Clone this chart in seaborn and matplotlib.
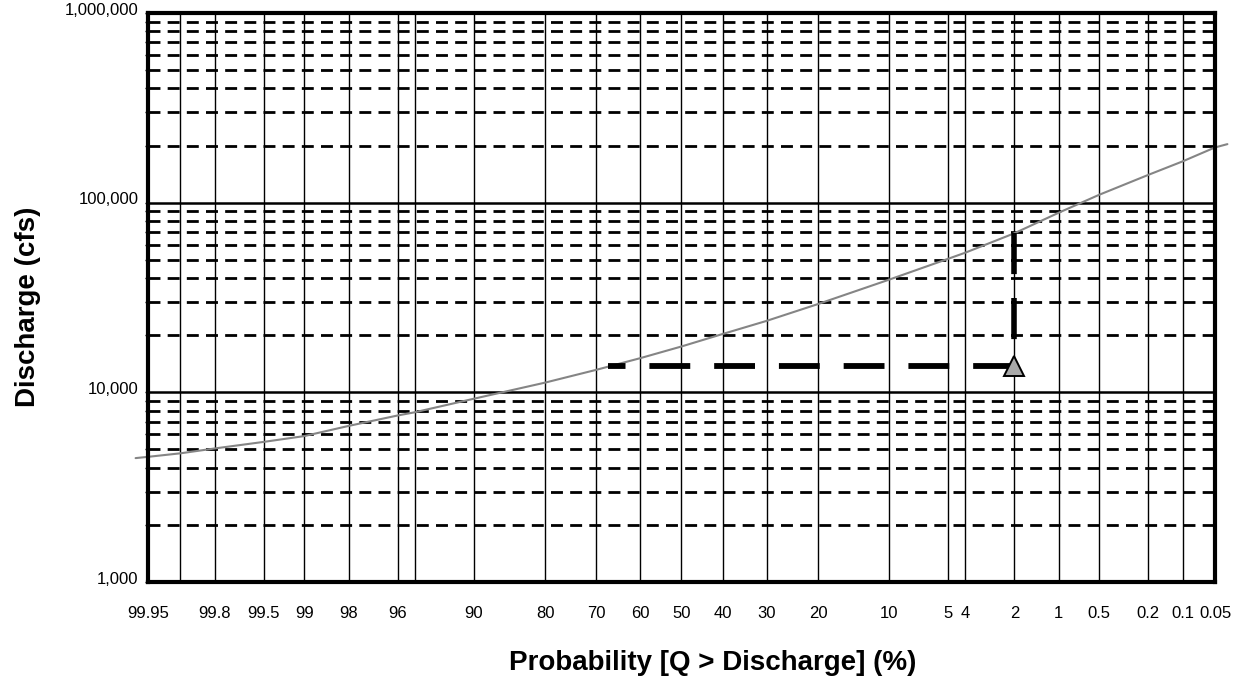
import numpy as np
import pandas as pd
import matplotlib
matplotlib.use("Agg")
import matplotlib.pyplot as plt
from matplotlib.transforms import ScaledTranslation
import seaborn as sns
from statistics import NormalDist

# ---------------- data ----------------
# frequency curve (exceedance probability %, discharge cfs)
curve_prob = [99.962, 99.95, 99.9, 99.8, 99.5, 99, 98, 96, 95, 90, 80, 70, 60, 50,
              40, 30, 20, 10, 5, 4, 2, 1, 0.5, 0.2, 0.1, 0.05, 0.038]
curve_q = [4500, 4570, 4770, 5060, 5480, 5880, 6650, 7550, 7850, 9250, 11250, 13150,
           15150, 17450, 20300, 23800, 29200, 39300, 50600, 54500, 69000, 88500,
           110000, 140000, 165000, 195500, 203500]

# probability grid / tick labels
grid_prob = [99.95, 99.9, 99.8, 99.5, 99, 98, 96, 95, 90, 80, 70, 60, 50, 40, 30, 20,
             10, 5, 4, 2, 1, 0.5, 0.2, 0.1, 0.05]
grid_labels = ["99.95", "", "99.8", "99.5", "99", "98", "96", "", "90", "80", "70",
               "60", "50", "40", "30", "20", "10", "5", "4", "2", "1", "0.5", "0.2",
               "0.1", "0.05"]

y_major = [1000, 10000, 100000, 1000000]
y_major_labels = ["1,000", "10,000", "100,000", "1,000,000"]
y_minor = [2000, 3000, 4000, 5000, 6000, 7000, 8000, 9000,
           20000, 30000, 40000, 50000, 60000, 70000, 80000, 90000,
           200000, 300000, 400000, 500000, 600000, 700000, 800000, 900000]

# design point lines
hline_prob = [2, 67.5]
hline_q = [13800, 13800]
vline_prob = [2, 2]
vline_q = [69000, 13800]
point_prob = [2]
point_q = [13800]

# ---------------- style ----------------
sns.set_theme(style="white")
plt.rcParams["font.family"] = ["Liberation Sans", "DejaVu Sans"]

fig = plt.figure(figsize=(12.39, 6.79), dpi=100)
ax = fig.add_axes([0.11945, 0.14286, 0.86118, 0.838])

_nd = NormalDist()


def _fwd(v):
    if 0 < v < 100:
        return _nd.inv_cdf(v / 100.0)
    return np.nan


def _inv(z):
    return 100.0 * _nd.cdf(z)


fwd = np.vectorize(_fwd, otypes=[float])
inv = np.vectorize(_inv, otypes=[float])

ax.set_xscale("function", functions=(fwd, inv))
ax.set_yscale("log")

curve_df = pd.DataFrame({"prob": curve_prob, "q": curve_q})
sns.lineplot(data=curve_df, x="prob", y="q", ax=ax, estimator=None, sort=False,
             color="#858585", lw=1.5, clip_on=False, zorder=4)

sns.lineplot(x=hline_prob, y=hline_q, ax=ax, estimator=None, sort=False,
             color="black", lw=4.2, linestyle=(0, (7.0, 4.1)), zorder=5)
sns.lineplot(x=vline_prob, y=vline_q, ax=ax, estimator=None, sort=False,
             color="black", lw=4.0, linestyle=(0, (7.4, 4.3)), zorder=5)
ax.plot(point_prob, point_q, linestyle="none", marker="^", ms=15,
        mfc="#a9a9a9", mec="black", mew=1.4, zorder=6)

ax.set_xlim(99.95, 0.05)
ax.set_ylim(1000, 1000000)

ax.set_xticks(grid_prob)
ax.set_xticklabels(grid_labels)
ax.xaxis.set_minor_locator(matplotlib.ticker.NullLocator())
ax.set_yticks(y_major)
ax.set_yticklabels(y_major_labels)
ax.set_yticks(y_minor, minor=True)
ax.set_yticklabels([""] * len(y_minor), minor=True)

ax.tick_params(axis="x", which="both", length=0, pad=17, labelsize=12,
               colors="black")
ax.tick_params(axis="y", which="both", direction="out", length=2, width=1,
               pad=5, labelsize=12, colors="black", left=True)

ax.grid(True, which="major", axis="x", color="black", lw=1.0, ls="-")
ax.grid(True, which="major", axis="y", color="black", lw=1.8, ls="-")
ax.grid(True, which="minor", axis="y", color="black", lw=2.0, ls=(0, (4.3, 2.6)))
ax.set_axisbelow(True)

for s in ax.spines.values():
    s.set_visible(True)
    s.set_color("black")
    s.set_linewidth(3)
    s.set_zorder(7)

for lbl in ax.get_yticklabels():
    lbl.set_transform(lbl.get_transform() + ScaledTranslation(0, 3 / 72, fig.dpi_scale_trans))

ax.set_xlabel("")
ax.set_ylabel("")
fig.text(713 / 1239, 1 - 663 / 679, "Probability [Q > Discharge] (%)",
         ha="center", va="center", fontsize=20, fontweight="bold", color="black")
fig.text(28 / 1239, 1 - 307 / 679, "Discharge (cfs)", rotation=90,
         ha="center", va="center", fontsize=20, fontweight="bold", color="black")

fig.savefig("out.png", dpi=100)
